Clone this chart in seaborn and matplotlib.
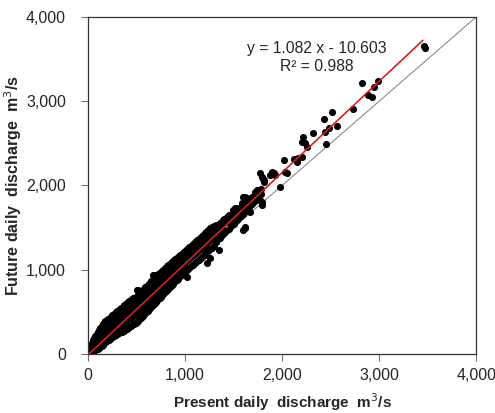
import matplotlib
matplotlib.use("Agg")
import matplotlib.pyplot as plt
import numpy as np
import seaborn as sns
from matplotlib.ticker import FuncFormatter

# dense band: present discharge and the future values seen above it (m3/s)
band_low_x = [5, 15, 25, 40, 50, 65, 75, 90, 100, 115, 125, 140, 150, 165, 175, 190, 200, 215,
              225, 240, 250, 265, 275, 290, 300]
band_low_y = [[5, 25], [10, 40, 70], [15, 60, 100], [20, 70, 130], [25, 90, 160],
              [35, 110, 190], [45, 130, 210], [55, 150, 240], [60, 120, 180, 260],
              [75, 150, 220, 290], [90, 170, 250, 310], [100, 190, 270, 330],
              [110, 160, 230, 300, 350], [125, 200, 260, 370], [140, 220, 300, 390],
              [150, 240, 320, 400], [160, 210, 280, 350, 410], [170, 250, 320, 420],
              [180, 270, 350, 430], [190, 260, 330, 440], [200, 280, 370, 460],
              [210, 300, 390, 470], [220, 320, 400, 480], [230, 310, 420, 500],
              [240, 340, 440, 510]]

band_mid_x = [315, 325, 340, 350, 365, 375, 390, 400, 415, 425, 440, 450, 465, 475, 490, 500,
              515, 525, 540, 550, 565, 575, 590, 600, 615, 625, 640, 650, 665, 675, 690, 700,
              715, 725, 740, 750, 765, 775, 790]
band_mid_y = [[250, 330, 420, 520], [255, 360, 460, 530], [260, 350, 450, 545],
              [265, 380, 480, 550], [275, 370, 470, 565], [285, 400, 500, 575],
              [295, 390, 490, 590], [300, 420, 520, 600], [310, 410, 510, 615],
              [320, 440, 540, 625], [330, 430, 530, 640], [340, 460, 560, 650],
              [350, 450, 550, 660], [355, 480, 580, 665], [365, 470, 570, 680],
              [380, 500, 600, 690], [395, 490, 590, 705], [410, 520, 620, 715],
              [425, 510, 610, 730], [440, 540, 640, 740], [455, 530, 630, 760],
              [470, 560, 660, 770], [485, 560, 680, 790], [500, 590, 700, 800],
              [515, 600, 700, 815], [530, 620, 720, 830], [545, 630, 740, 845],
              [560, 660, 760, 860], [575, 670, 770, 875], [590, 690, 790, 890],
              [605, 700, 800, 905], [620, 720, 820, 920], [635, 730, 840, 935],
              [650, 750, 850, 945], [665, 760, 870, 960], [680, 780, 880, 975],
              [700, 790, 900, 990], [715, 810, 910, 1000], [735, 820, 930, 1015]]

band_high_x = [800, 815, 825, 840, 850, 865, 875, 890, 900, 915, 925, 940, 950, 965, 975, 990,
               1000, 1020, 1040, 1060, 1080, 1100, 1120, 1140, 1160, 1180, 1200, 1220, 1240,
               1260, 1280, 1300]
band_high_y = [[745, 850, 940, 1025], [760, 860, 960, 1040], [775, 880, 970, 1050],
               [790, 890, 990, 1065], [805, 910, 1000, 1075], [820, 920, 1020, 1090],
               [835, 940, 1030, 1100], [850, 950, 1050, 1115], [865, 970, 1060, 1125],
               [880, 980, 1080, 1140], [895, 1000, 1090, 1150], [910, 1010, 1110, 1165],
               [925, 1030, 1120, 1175], [940, 1040, 1140, 1190], [955, 1060, 1150, 1200],
               [970, 1070, 1170, 1215], [985, 1090, 1180, 1225], [1000, 1110, 1200, 1245],
               [1020, 1130, 1220, 1265], [1040, 1150, 1240, 1285], [1060, 1170, 1260, 1305],
               [1080, 1190, 1280, 1330], [1100, 1210, 1300, 1350], [1120, 1230, 1320, 1370],
               [1140, 1250, 1340, 1390], [1160, 1270, 1360, 1410], [1180, 1290, 1380, 1430],
               [1200, 1310, 1400, 1450], [1220, 1330, 1420, 1470], [1240, 1350, 1440, 1490],
               [1260, 1370, 1460, 1505], [1280, 1390, 1480, 1520]]

band_top_x = [1320, 1340, 1360, 1380, 1400, 1425, 1450, 1475, 1500, 1525, 1550, 1575, 1600,
              1630, 1660, 1690, 1720, 1750, 1780]
band_top_y = [[1330, 1440, 1530], [1360, 1470], [1380, 1500, 1560], [1410, 1520],
              [1430, 1550, 1600], [1460, 1570], [1480, 1600, 1650], [1520, 1630],
              [1540, 1660, 1700], [1580, 1680], [1600, 1710], [1640, 1730], [1660, 1760],
              [1700, 1790], [1740, 1820], [1780, 1860], [1820, 1890], [1860, 1920],
              [1900, 1960]]

# scattered outliers and the sparse upper tail
tail_present = [519, 502, 690, 673, 828, 863, 1017, 1223, 1258, 1344, 1395, 1430, 1498, 1498,
                1515, 1550, 1584, 1601, 1601, 1619, 1619, 1619, 1636, 1636, 1670, 1670, 1722,
                1739, 1773, 1773, 1790, 1790, 1790, 1800, 1808, 1810, 1876, 1893, 1911, 1928,
                1979, 2014, 2031, 2048, 2117, 2151, 2168, 2203, 2203, 2220, 2237, 2255, 2323,
                2436, 2443, 2454, 2488, 2512, 2564, 2735, 2821, 2883, 2924, 2942, 2993, 3460,
                3470]
tail_future = [760, 760, 938, 938, 997, 973, 917, 1075, 1140, 1234, 1590, 1630, 1709, 1555,
               1733, 1730, 1789, 1867, 1472, 1867, 1511, 1491, 1828, 1848, 1769, 1689, 1926,
               1947, 2144, 1828, 2104, 1808, 1769, 2080, 2045, 2060, 2124, 2164, 2144, 2124,
               1986, 2303, 2164, 2152, 2310, 2282, 2322, 2341, 2519, 2571, 2507, 2460, 2627,
               2789, 2639, 2493, 2686, 2868, 2710, 2904, 3213, 3074, 3046, 3164, 3240, 3660,
               3630]

slope, intercept, r2 = 1.082, -10.603, 0.988
fit_range = [0, 3450]
ticks = [0, 1000, 2000, 3000, 4000]


def flatten(xs, ys):
    px, py = [], []
    for x, col in zip(xs, ys):
        px += [x] * len(col)
        py += col
    return px, py


present, future = list(tail_present), list(tail_future)
for xs, ys in [(band_low_x, band_low_y), (band_mid_x, band_mid_y),
               (band_high_x, band_high_y), (band_top_x, band_top_y)]:
    px, py = flatten(xs, ys)
    present += px
    future += py

sns.set_style("white")
plt.rcParams["font.family"] = ["Liberation Sans", "DejaVu Sans"]

fig = plt.figure(figsize=(4.95, 4.13), dpi=100)
ax = fig.add_axes([0.178, 0.143, 0.784, 0.816])

ax.plot([0, 4000], [0, 4000], color="#8c8c8c", lw=0.8, zorder=1)
sns.scatterplot(x=present, y=future, color="black", s=26, edgecolor="black",
                linewidth=0, ax=ax, zorder=2)
fit_x = np.array(fit_range)
sns.lineplot(x=fit_x, y=slope * fit_x + intercept, color="#d81e1e", lw=1.2, ax=ax, zorder=3)

ax.text(2360, 3630, f"y = {slope:.3f} x - {abs(intercept):.3f}", ha="center", va="center",
        fontsize=11.3)
ax.text(2360, 3410, f"R\u00b2 = {r2:.3f}", ha="center", va="center", fontsize=11.3)

ax.set_xlim(0, 4000)
ax.set_ylim(0, 4000)
ax.set_xticks(ticks)
ax.set_yticks(ticks)
fmt = FuncFormatter(lambda v, p: f"{int(v):,}")
ax.xaxis.set_major_formatter(fmt)
ax.yaxis.set_major_formatter(fmt)
ax.tick_params(axis="both", direction="out", length=5, width=0.8, color="#707070",
               labelsize=11.5, bottom=True, left=True)
ax.tick_params(axis="x", pad=5)
ax.tick_params(axis="y", pad=11)
for sp in ax.spines.values():
    sp.set_color("#333333")
    sp.set_linewidth(0.9)

ax.set_xlabel("Present daily  discharge  m$^3$/s", fontsize=11, fontweight="bold",
              labelpad=6)
ax.set_ylabel("Future daily  discharge  m$^3$/s", fontsize=11.5, fontweight="bold",
              labelpad=1)

fig.savefig("out.png", dpi=100)
